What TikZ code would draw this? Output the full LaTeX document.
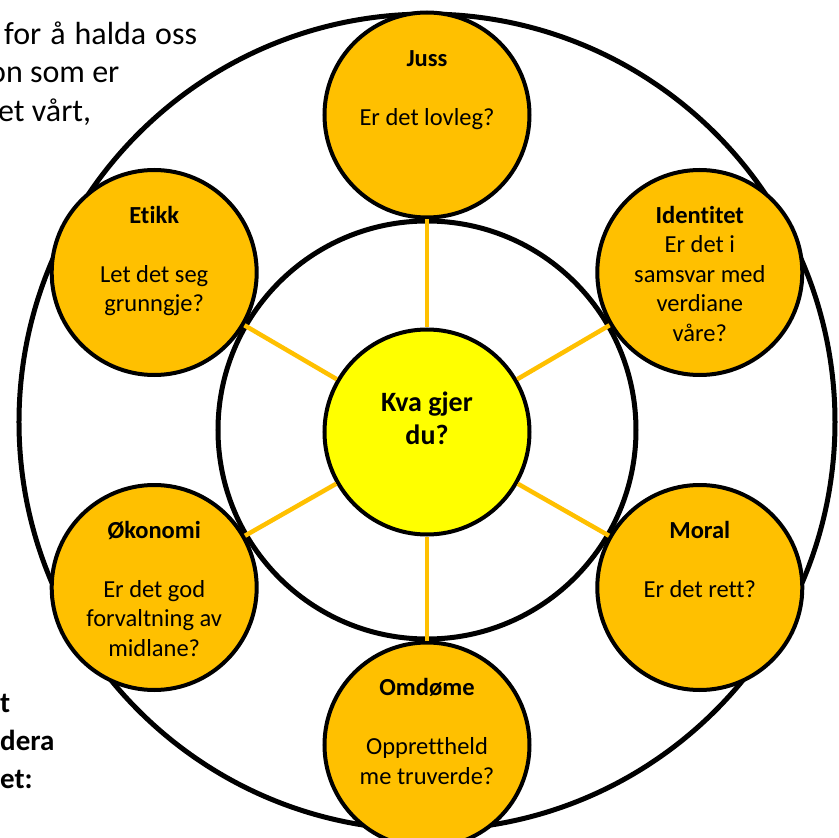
\documentclass[tikz,border=0pt]{standalone}
\usepackage{fontspec}
\setmainfont{Carlito}[Ligatures=NoCommon]
\usetikzlibrary{calc}
\definecolor{gull}{HTML}{FFC000}
\definecolor{gul}{HTML}{FFFF00}

\begin{document}
\begin{tikzpicture}[x=1pt,y=1pt,
    ring/.style={draw=black,line width=5pt},
    topic/.style={circle,draw=black,line width=4pt,fill=gull,minimum size=205pt,inner sep=0pt},
    topictext/.style={anchor=north,align=center,inner sep=0pt,font=\fontsize{24.5}{29.5}\selectfont},
    spoke/.style={draw=gull,line width=4.5pt},
    side/.style={anchor=north west,align=left,inner sep=0pt,font=\fontsize{32}{38.5}\selectfont}]
    \useasboundingbox (-427,-408) rectangle (411,430);
    \clip (-427,-408) rectangle (411,430);
    % cut-off page text
    \node[side] (sidetop) at (-423,412.9) {for\hspace{9pt}å\hspace{9pt}halda\hspace{9pt}oss\strut\\\hspace*{-15pt}on som er\\\hspace*{-6pt}et vårt,};
    \node[side,font=\bfseries\fontsize{29}{38}\selectfont] (sidebot) at (-427,-255.4) {t\strut\\dera\\et:};
    % rings
    \draw[ring] (0,8) circle[radius=408];
    \draw[ring] (0,0) circle[radius=209];
    % centre and the six questions
    \node[topic,fill=gul] (kva) at (0,-2) {};
    \node[topic] (juss) at (90:315) {};
    \node[topic] (identitet) at (30:315) {};
    \node[topic] (moral) at (-30:315) {};
    \node[topic] (omdome) at (-90:315) {};
    \node[topic] (okonomi) at (210:315) {};
    \node[topic] (etikk) at (150:315) {};
    \node[topictext,font=\bfseries\fontsize{28}{33}\selectfont] (kvat) at ([yshift=44pt]kva.center) {Kva gjer\strut\\du?};
    \node[topictext] (jusst) at ([yshift=69pt]juss.center) {\textbf{Juss}\strut\\[29.5pt]Er det lovleg?};
    \node[topictext] (identitett) at ([yshift=70pt]identitet.center) {\textbf{Identitet}\strut\\Er det i\\samsvar med\\verdiane\\våre?};
    \node[topictext] (moralt) at ([yshift=70pt]moral.center) {\textbf{Moral}\strut\\[29.5pt]Er det rett?};
    \node[topictext] (omdomet) at ([yshift=70pt]omdome.center) {\textbf{Omdøme}\strut\\[29.5pt]Opprettheld\\me truverde?};
    \node[topictext] (okonomit) at ([yshift=70pt]okonomi.center) {\textbf{Økonomi}\strut\\[29.5pt]Er det god\\forvaltning av\\midlane?};
    \node[topictext] (etikkt) at ([yshift=70pt]etikk.center) {\textbf{Etikk}\strut\\[29.5pt]Let det seg\\grunngje?};
    % spokes
    \draw[spoke] (kva) -- (juss);
    \draw[spoke] (kva) -- (identitet);
    \draw[spoke] (kva) -- (moral);
    \draw[spoke] (kva) -- (omdome);
    \draw[spoke] (kva) -- (okonomi);
    \draw[spoke] (kva) -- (etikk);
\end{tikzpicture}
\end{document}
